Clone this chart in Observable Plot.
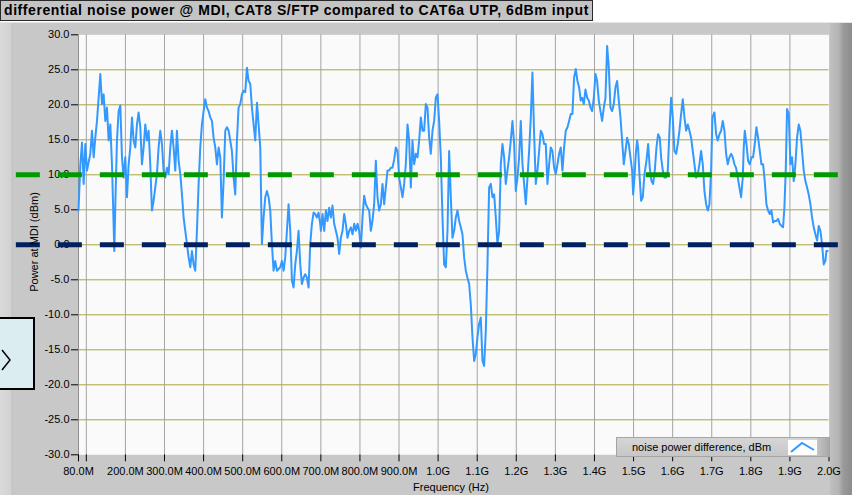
<!DOCTYPE html>
<html><head><meta charset="utf-8">
<script src="https://cdn.jsdelivr.net/npm/d3@7"></script>
<script src="https://cdn.jsdelivr.net/npm/@observablehq/plot@0.6"></script>
<style>
html,body{margin:0;padding:0;background:#fff;}
body{font-family:"Liberation Sans",Arial,sans-serif;}
#wrap{position:relative;width:852px;height:497px;overflow:hidden;background:#fff;}
#panel{position:absolute;left:0;top:22px;width:852px;height:473px;background:#c8c8c8;border-top:1px solid #e6e6e6;box-sizing:border-box;}
#lstrip{position:absolute;left:0;top:23px;width:13px;height:472px;background:linear-gradient(to right,#dadada,#d2d2d2 80%,#c0c0c0);}
#rstrip{position:absolute;left:830px;top:23px;width:22px;height:472px;background:linear-gradient(to right,#c0c0c0,#b4b4b4 40%,#9a9a9a 60%,#8c8c8c);}
#title{position:absolute;left:0;top:0;width:588px;height:19px;background:#c4c4c4;border:1px solid #2a2a2a;font:bold 14px "Liberation Sans",Arial,sans-serif;letter-spacing:0.58px;line-height:19px;padding-left:3px;box-sizing:content-box;white-space:nowrap;color:#000;}
#chart{position:absolute;left:0;top:0;}
#ylab{position:absolute;left:34px;top:242px;transform:translate(-50%,-50%) rotate(-90deg);font-size:11px;white-space:nowrap;color:#000;}
#xlab{position:absolute;left:451px;top:481px;transform:translateX(-50%);font-size:11px;white-space:nowrap;color:#000;}
#legend{position:absolute;left:616px;top:437px;width:214px;height:20px;box-sizing:border-box;border:1px solid #a4a4a4;background:linear-gradient(to bottom,#d6d6d6,#c6c6c6);}
#legend span{position:absolute;left:15px;top:3px;font-size:11px;white-space:nowrap;color:#000;}
#legend .end{position:absolute;right:0;top:0;width:12px;height:18px;background:linear-gradient(to right,#c4c4c4,#a8a8a8);}
#sw{position:absolute;left:171px;top:2px;width:29px;height:15px;background:#fff;}
#lbox{position:absolute;left:-2px;top:317px;width:33px;height:69px;background:#dcedf1;border:2px solid #000;}
</style>
</head><body>
<div id="wrap">
  <div id="panel"></div>
  <div id="lstrip"></div>
  <div id="rstrip"></div>
  <div id="title">differential noise power @ MDI, CAT8 S/FTP compared to CAT6a UTP, 6dBm input</div>
  <div id="lbox"><svg width="33" height="69" style="position:absolute;left:0;top:0"><polyline points="2,31 10,41 2,51" fill="none" stroke="#000" stroke-width="1.5"/></svg></div>
  <div id="chart"></div>
  <div id="ylab">Power at MDI (dBm)</div>
  <div id="xlab">Frequency (Hz)</div>
  <div id="legend"><span>noise power difference, dBm</span><div id="sw"><svg width="29" height="15"><polyline points="3,12 14,3 26,10" fill="none" stroke="#3399ff" stroke-width="2"/></svg></div><div class="end"></div></div>
</div>
<script>
// Frequency in MHz
const freqMHz = [80.0,84.7,88.9,93.2,97.4,101.7,110.2,114.5,118.8,123.0,127.3,131.5,135.8,140.1,144.3,148.6,152.8,157.1,161.4,165.6,168.2,171.6,174.2,178.4,182.7,187.0,191.2,195.5,199.7,204.0,208.3,212.5,216.8,221.0,225.3,229.6,233.8,238.1,242.3,246.6,250.9,255.1,259.4,263.6,267.9,272.2,276.4,280.7,284.9,289.2,293.5,297.7,302.0,306.3,310.5,314.8,319.0,323.3,327.6,331.8,336.1,340.4,344.7,348.9,353.2,357.5,361.7,366.0,370.2,374.5,378.7,383.0,387.3,391.5,395.8,400.1,404.3,408.6,412.8,417.1,421.4,425.6,429.9,434.2,438.4,442.7,446.9,451.2,455.5,459.7,464.0,468.2,472.5,476.8,481.0,485.3,489.5,493.8,498.1,502.4,506.6,510.9,515.2,519.4,523.7,527.9,532.2,536.5,540.7,545.0,549.2,553.5,557.8,562.0,566.3,570.6,574.8,579.1,583.3,587.6,596.1,600.4,604.7,608.9,613.2,617.4,621.7,626.0,630.2,634.5,638.7,643.0,647.3,651.5,655.8,660.1,664.3,668.6,672.8,677.1,681.4,685.6,689.9,694.1,698.4,
700.0,704.3,708.5,712.8,717.1,721.3,725.6,729.8,734.1,738.4,742.6,746.9,751.2,755.4,759.7,763.9,768.2,772.5,776.7,781.0,785.3,789.5,793.8,798.0,802.3,806.6,810.8,815.1,819.4,823.6,827.9,832.1,836.4,840.7,844.9,849.2,853.5,857.7,862.0,866.2,870.5,874.8,879.0,883.3,887.6,891.8,896.1,900.3,904.6,908.9,913.1,917.4,921.7,925.9,930.2,934.4,938.7,943.0,947.2,951.5,955.8,960.0,964.3,968.5,972.8,977.1,981.3,985.6,989.9,994.1,998.4,1002.6,1006.9,1011.2,1015.4,1019.7,1024.0,1028.2,1032.5,1036.7,1041.0,1045.3,1049.5,1053.8,1058.1,1062.3,1066.6,1070.8,1075.1,1079.4,1083.6,1087.9,1092.2,1096.4,1100.7,1104.9,1109.2,1113.5,1117.7,1122.0,1126.3,1130.5,1134.8,1139.0,1143.3,1147.6,1151.8,1156.1,1160.4,1164.6,1168.9,1173.1,1177.4,1181.7,1185.9,1190.2,1194.5,1198.7,1203.0,1207.2,1211.5,1215.8,1220.0,1224.3,1228.6,1232.8,1237.1,1241.3,1245.6,1249.9,1254.1,1258.4,1262.7,1266.9,1271.2,1275.4,1279.7,1284.0,1288.2,1292.5,1296.8,1301.0,1305.3,1309.5,1313.8,1318.1,1322.3,1326.6,1330.9,1335.1,1339.4,1343.6,1347.9,1352.2,1356.4,1360.7,1364.9,
1368.5,1372.7,1377.0,1381.2,1385.5,1389.8,1394.0,1398.3,1402.6,1406.8,1411.1,1415.3,1419.6,1423.9,1428.1,1432.4,1436.7,1440.9,1445.2,1449.4,1453.7,1458.0,1462.2,1466.5,1470.8,1475.0,1479.3,1483.5,1487.8,1492.1,1496.3,1498.9,1502.3,1505.7,1509.1,1511.6,1515.1,1519.3,1523.6,1527.9,1533.0,1537.3,1541.5,1545.8,1550.0,1554.3,1558.6,1562.8,1567.1,1570.5,1574.8,1579.0,1583.3,1587.6,1591.8,1596.1,1600.3,1604.6,1608.9,1613.1,1617.4,1621.7,1625.9,1630.2,1634.4,1638.7,1643.0,1647.2,1651.5,1655.8,1660.0,1664.3,1668.5,1672.8,1677.1,1681.3,1685.6,1689.9,1694.1,1698.4,1701.8,1706.9,1711.2,1715.4,1719.7,1724.0,1728.2,1732.5,1736.8,1741.0,1745.3,1749.5,1753.8,1758.1,1762.3,1766.6,1770.8,1775.1,1779.4,1781.9,1784.5,1788.8,1793.0,1797.3,1801.5,1805.8,1810.1,1814.3,1818.6,1822.9,1827.1,1831.4,1835.6,1839.9,1844.2,1848.4,1852.7,1857.0,1861.2,1865.5,1869.7,1874.0,1878.3,1882.5,1885.9,1889.3,1892.7,1897.0,1901.3,1905.5,1909.8,1914.0,1918.3,1922.6,1926.8,1931.1,1935.4,1939.6,1943.9,1948.1,1952.4,1956.7,1960.9,1965.2,1969.5,1973.7,1978.0,1982.2,1986.5,1990.8,1993.3,1996.7];
// noise power difference, dBm
const powerDb = [4.9,11.5,14.6,8.7,14.4,10.6,13.0,16.3,12.5,15.3,17.7,21.0,24.4,20.1,21.5,17.7,19.6,14.9,17.2,11.5,6.3,-0.9,5.8,14.9,19.1,19.9,12.5,9.6,12.5,6.8,11.5,13.9,18.2,14.9,13.9,17.2,18.9,16.8,11.5,13.9,17.2,14.9,16.3,11.5,4.9,6.3,8.2,10.1,13.9,16.3,14.4,10.6,9.6,11.0,10.1,13.9,16.3,13.9,10.6,16.3,12.0,10.1,7.2,3.9,2.0,0.1,-1.8,-3.2,-0.9,-2.8,-3.7,2.0,8.7,13.9,17.2,19.1,20.8,19.6,19.1,18.2,17.7,15.3,13.9,11.5,13.9,12.5,3.9,9.1,16.3,16.8,16.3,14.9,13.4,9.6,7.2,14.9,19.6,20.1,21.5,22.0,21.8,25.3,23.4,23.0,19.6,17.2,14.9,20.3,17.2,13.9,0.1,3.9,6.8,7.7,6.8,4.9,0.1,-3.7,-2.3,-3.7,-3.2,-2.3,-3.7,-1.8,2.0,5.8,2.0,-5.1,-6.1,-2.8,-0.9,2.0,-2.8,-5.6,-4.7,-4.2,-4.7,-6.1,0.1,3.0,4.6,4.4,3.9,4.6,3.0,
2.0,4.4,2.0,4.9,3.4,5.3,3.9,5.6,3.0,2.0,1.0,-1.3,1.0,2.0,4.4,3.0,1.0,2.0,2.5,1.5,3.0,2.0,3.0,2.0,-0.4,3.9,7.0,5.8,5.3,4.9,2.0,3.4,5.8,12.0,6.8,4.9,5.8,8.7,5.8,8.2,10.6,10.6,11.0,11.0,12.2,13.9,13.4,9.6,8.2,6.8,8.7,11.5,17.2,14.9,8.2,14.9,11.5,13.0,12.5,14.9,18.2,16.3,16.3,20.1,19.6,15.3,13.0,16.3,17.7,21.0,21.5,17.7,12.5,3.9,-2.8,-3.2,2.0,13.4,6.8,1.0,2.0,3.9,4.9,3.4,2.5,1.5,-1.8,-3.7,-4.7,-5.6,-8.5,-13.2,-16.6,-15.6,-13.2,-11.3,-10.4,-16.6,-17.3,-12.3,-2.8,8.2,8.7,6.8,7.2,3.9,0.1,2.0,11.5,14.4,12.5,8.7,10.6,12.5,14.9,17.7,14.4,7.7,9.6,12.5,17.7,11.5,8.7,5.8,9.6,13.4,18.2,24.6,15.8,8.7,10.6,13.4,16.3,15.8,14.4,14.4,8.7,11.5,13.9,13.4,11.0,10.1,11.5,13.0,13.9,10.6,13.9,16.3,16.8,17.7,18.7,18.7,23.9,25.1,23.4,22.5,20.6,
21.0,20.1,22.2,21.0,20.6,19.6,19.1,21.0,24.4,23.4,20.6,19.1,17.7,19.6,21.0,28.4,25.3,19.6,19.1,20.1,22.5,23.4,20.6,18.2,14.9,11.5,13.4,15.3,14.4,12.5,10.6,7.2,9.6,13.0,14.9,13.9,10.1,6.3,6.8,10.1,12.0,14.4,11.0,9.1,8.7,10.6,13.9,15.8,15.3,12.5,10.6,9.6,9.6,10.6,16.3,21.0,18.2,13.4,13.0,14.4,16.3,18.7,20.8,18.2,16.3,17.2,16.3,15.3,13.4,11.5,9.6,10.1,11.5,13.4,11.5,7.7,5.8,4.9,5.8,10.6,18.2,18.9,15.8,14.9,15.8,16.3,17.7,16.3,13.0,11.5,12.5,13.0,12.5,11.5,11.0,9.6,8.2,6.8,9.6,13.9,16.3,14.4,12.0,11.5,12.5,12.5,14.4,16.8,15.3,13.4,11.5,11.5,9.1,5.8,4.9,4.4,4.9,3.2,3.4,3.4,3.7,3.0,2.7,2.5,5.3,10.6,19.4,18.7,11.5,12.5,9.1,11.5,15.3,17.2,16.3,13.4,10.6,9.1,8.2,7.2,5.8,3.9,2.5,1.5,0.6,2.7,2.0,0.1,-2.8,-2.3,-0.9,-0.9];

const xTickValues = [80,100,200,300,400,500,600,700,800,900,1000,1100,1200,1300,1400,1500,1600,1700,1800,1900,2000];
const xTickLabels = ["80.0M","","200.0M","300.0M","400.0M","500.0M","600.0M","700.0M","800.0M","900.0M","1.0G","1.1G","1.2G","1.3G","1.4G","1.5G","1.6G","1.7G","1.8G","1.9G","2.0G"];
const xGridValues = [100,200,300,400,500,600,700,800,900,1000,1100,1200,1300,1400,1500,1600,1700,1800,1900];
const yTickValues = [-30,-25,-20,-15,-10,-5,0,5,10,15,20,25,30];
const yGridValues = [-25,-20,-15,-10,-5,0,5,10,15,20,25];
const refLevels = [10, 0];
const refColors = ["#009a00", "#00205e"];
const refSpanMHz = [-79, 2024];

const xLabelMap = new Map(xTickValues.map((v, i) => [v, xTickLabels[i]]));
const series = freqMHz.map((f, i) => ({f, p: powerDb[i]}));

const chart = Plot.plot({
  width: 852,
  height: 497,
  marginLeft: 78,
  marginRight: 23.5,
  marginTop: 34.3,
  marginBottom: 42.7,
  style: {background: "transparent", fontFamily: "'Liberation Sans', Arial, sans-serif", fontSize: "11px", color: "#000", overflow: "visible"},
  x: {domain: [80, 2000]},
  y: {domain: [-30, 30]},
  marks: [
    Plot.frame({fill: "#fafafa", stroke: null}),
    Plot.gridY(yGridValues, {stroke: "#a9a43c", strokeOpacity: 1, strokeWidth: 1}),
    Plot.gridX(xGridValues, {stroke: "#a4a4a4", strokeOpacity: 1, strokeWidth: 1}),
    Plot.ruleX([80], {stroke: "#8c8c8c", strokeWidth: 1}),
    Plot.axisY(yTickValues, {tickSize: 7, tickPadding: 2, tickFormat: d => d.toFixed(1), label: null, stroke: "#000", fill: "#000"}),
    Plot.axisX(xTickValues, {tickSize: 7, tickPadding: 5, tickFormat: d => xLabelMap.get(d), label: null, stroke: "#000", fill: "#000"}),
    Plot.line(series, {x: "f", y: "p", stroke: "#3399ff", strokeWidth: 2, curve: "linear"}),
    ...refLevels.map((lv, i) => Plot.ruleY([lv], {x1: refSpanMHz[0], x2: refSpanMHz[1], stroke: refColors[i], strokeWidth: 5, strokeDasharray: "24,18"}))
  ]
});
document.getElementById("chart").appendChild(chart);
</script>
</body></html>
